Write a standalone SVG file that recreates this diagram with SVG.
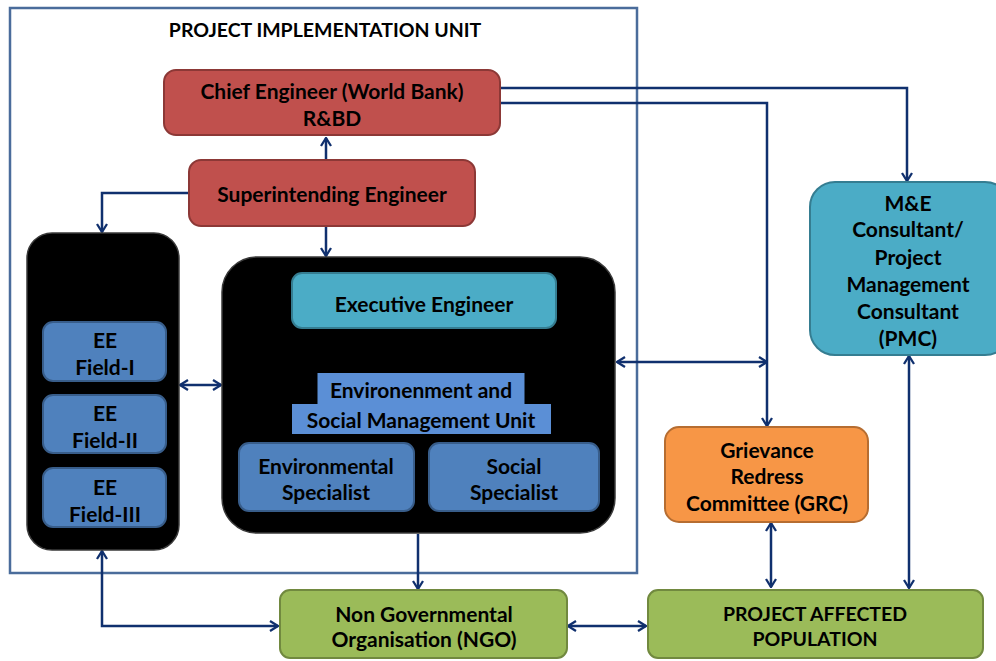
<svg xmlns="http://www.w3.org/2000/svg" width="996" height="661" viewBox="0 0 996 661">
<style>
text{font-family:Lato,"Liberation Sans",sans-serif;font-weight:bold;font-size:21px;fill:#000;text-anchor:middle;dominant-baseline:central}
.caps{font-size:19.5px}
.red{fill:#c0504d;stroke:#8c3836;stroke-width:2}
.teal{fill:#4bacc6;stroke:#357d91;stroke-width:2}
.blue{fill:#4f81bd;stroke:#385d8a;stroke-width:2}
.green{fill:#9bbb59;stroke:#71893f;stroke-width:2}
.orange{fill:#f79646;stroke:#b66d31;stroke-width:2}
.blk{fill:#000;stroke:#3a3a3a;stroke-width:1.5}
.hl{fill:#5b8fd6}
.c{fill:none;stroke:#10306e;stroke-width:2.5}
</style>
<defs>
<marker id="a" viewBox="0 0 10 12" refX="9" refY="6" markerWidth="10" markerHeight="12" markerUnits="userSpaceOnUse" orient="auto-start-reverse">
<path d="M1,1 L9,6 L1,11" fill="none" stroke="#10306e" stroke-width="2.3"/>
</marker>
</defs>
<rect width="996" height="661" fill="#fff"/>
<g id="piu">
<rect x="10" y="8" width="627" height="565" fill="none" stroke="#4a6c9b" stroke-width="2.5"/>
<text class="caps" x="325" y="29">PROJECT IMPLEMENTATION UNIT</text>
</g>
<g id="connectors">
<path class="c" d="M326,160 V138" marker-end="url(#a)"/>
<path class="c" d="M189,193 H102 V232" marker-end="url(#a)"/>
<path class="c" d="M326,226 V256" marker-end="url(#a)"/>
<path class="c" d="M500,88 H907 V181" marker-end="url(#a)"/>
<path class="c" d="M500,103 H767 V426" marker-end="url(#a)"/>
<path class="c" d="M617,362 H767" marker-start="url(#a)" marker-end="url(#a)"/>
<path class="c" d="M180,385 H221" marker-start="url(#a)" marker-end="url(#a)"/>
<path class="c" d="M418,534 V589" marker-end="url(#a)"/>
<path class="c" d="M102,551 V626 H278" marker-start="url(#a)" marker-end="url(#a)"/>
<path class="c" d="M568,626 H646" marker-start="url(#a)" marker-end="url(#a)"/>
<path class="c" d="M771,523 V587" marker-start="url(#a)" marker-end="url(#a)"/>
<path class="c" d="M909,356 V588" marker-start="url(#a)" marker-end="url(#a)"/>
</g>
<g id="chief">
<rect class="red" x="164" y="70" width="336" height="65" rx="12"/>
<text x="332" y="90">Chief Engineer (World Bank)</text>
<text x="332" y="117">R&amp;BD</text>
</g>
<g id="se">
<rect class="red" x="189" y="160" width="286" height="66" rx="12"/>
<text x="332" y="193">Superintending Engineer</text>
</g>
<g id="fieldunit">
<rect class="blk" x="27" y="233" width="152" height="317" rx="25"/>
</g>
<g id="ee1">
<rect class="blue" x="43" y="322" width="123" height="59" rx="10"/>
<text x="105" y="339">EE</text>
<text x="105" y="366">Field-I</text>
</g>
<g id="ee2">
<rect class="blue" x="43" y="395" width="123" height="58" rx="10"/>
<text x="105" y="412">EE</text>
<text x="105" y="439">Field-II</text>
</g>
<g id="ee3">
<rect class="blue" x="43" y="468" width="123" height="59" rx="10"/>
<text x="105" y="486">EE</text>
<text x="105" y="513">Field-III</text>
</g>
<g id="esmu">
<rect class="blk" x="222" y="257" width="393" height="276" rx="35"/>
<rect class="hl" x="317.5" y="373" width="207" height="31"/>
<rect class="hl" x="292" y="404" width="259" height="30"/>
<text x="421" y="389">Environenment and</text>
<text x="421" y="419">Social Management Unit</text>
</g>
<g id="exec">
<rect class="teal" x="292" y="273" width="264" height="55" rx="10"/>
<text x="424" y="303">Executive Engineer</text>
</g>
<g id="envspec">
<rect class="blue" x="239" y="443" width="175" height="68" rx="10"/>
<text x="326" y="465">Environmental</text>
<text x="326" y="491">Specialist</text>
</g>
<g id="socspec">
<rect class="blue" x="429" y="443" width="170" height="68" rx="10"/>
<text x="514" y="465">Social</text>
<text x="514" y="491">Specialist</text>
</g>
<g id="pmc">
<rect class="teal" x="810" y="182" width="200" height="173" rx="25"/>
<text x="908" y="202">M&amp;E</text>
<text x="908" y="228">Consultant/</text>
<text x="908" y="256">Project</text>
<text x="908" y="283">Management</text>
<text x="908" y="310">Consultant</text>
<text x="908" y="337">(PMC)</text>
</g>
<g id="grc">
<rect class="orange" x="665" y="427" width="203" height="95" rx="14"/>
<text x="767" y="449">Grievance</text>
<text x="767" y="475">Redress</text>
<text x="767" y="502">Committee (GRC)</text>
</g>
<g id="ngo">
<rect class="green" x="280" y="590" width="287" height="68" rx="10"/>
<text x="424" y="613">Non Governmental</text>
<text x="424" y="638">Organisation (NGO)</text>
</g>
<g id="pap">
<rect class="green" x="648" y="590" width="335" height="68" rx="10"/>
<text class="caps" x="815" y="613">PROJECT AFFECTED</text>
<text class="caps" x="815" y="638">POPULATION</text>
</g>
</svg>
